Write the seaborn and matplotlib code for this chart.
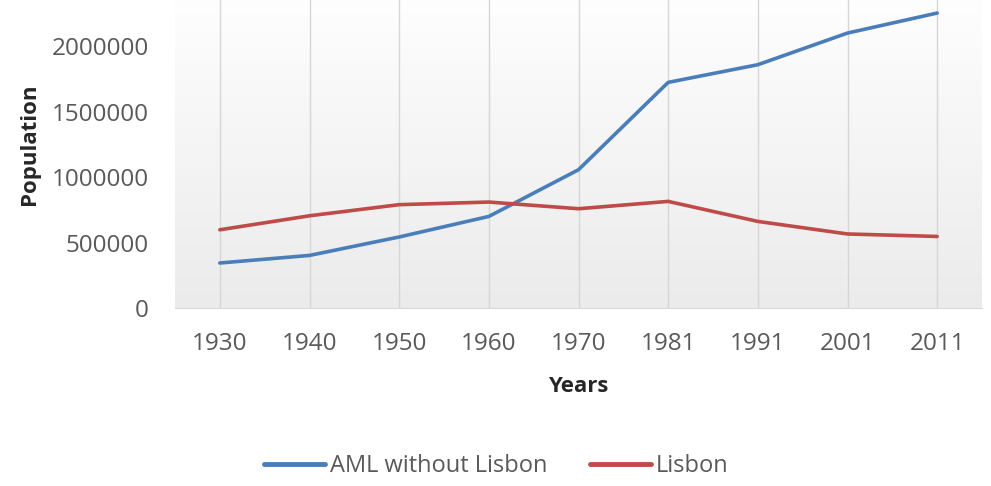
import numpy as np
import pandas as pd
import matplotlib.pyplot as plt
import seaborn as sns
from matplotlib.colors import LinearSegmentedColormap

years = ["1930", "1940", "1950", "1960", "1970", "1981", "1991", "2001", "2011"]
aml_without_lisbon = [344000, 402000, 543000, 700000, 1057000, 1725000, 1860000, 2102000, 2255000]
lisbon = [598000, 705000, 790000, 810000, 759000, 815000, 662000, 566000, 547000]
y_ticks = [0, 500000, 1000000, 1500000, 2000000]

df = pd.DataFrame({
    "Years": years * 2,
    "Population": aml_without_lisbon + lisbon,
    "Series": ["AML without Lisbon"] * len(years) + ["Lisbon"] * len(years),
})
palette = {"AML without Lisbon": "#4a7ebb", "Lisbon": "#be4b48"}

sns.set_style("white")
plt.rcParams['font.family'] = ['Open Sans', 'DejaVu Sans']

fig = plt.figure(figsize=(9.91, 4.86), dpi=100)
# plot area runs a little above the top edge of the picture (original was cropped)
ax = fig.add_axes([175 / 991, 178 / 486, 807 / 991, 327 / 486])

# Excel-like vertical gradient in the plot area: white at top, light grey at bottom
cmap = LinearSegmentedColormap.from_list("bg", ["#ffffff", "#ebebeb"])
ax.imshow(np.linspace(0, 1, 256).reshape(-1, 1), cmap=cmap, aspect="auto",
          extent=[0, 1, 0, 1], transform=ax.transAxes, zorder=0)

sns.lineplot(data=df, x="Years", y="Population", hue="Series", palette=palette,
             sort=False, lw=2.6, ax=ax, legend=False, zorder=3)

ax.set_xlim(-0.5, len(years) - 0.5)
ax.set_ylim(0, 2500000)
ax.set_yticks(y_ticks)
ax.set_yticklabels([str(v) for v in y_ticks])
for i in range(len(years)):
    ax.axvline(i, color="#d6d6d6", lw=1, zorder=1)

for s in ["top", "right", "left"]:
    ax.spines[s].set_visible(False)
ax.spines["bottom"].set_color("#d9d9d9")
ax.spines["bottom"].set_zorder(2)
ax.tick_params(axis="both", length=0, labelsize=17.5, labelcolor="#595959")
ax.tick_params(axis="y", pad=19)
ax.tick_params(axis="x", pad=17)

ax.set_xlabel("Years", fontsize=16, fontweight="bold", labelpad=15)
ax.set_ylabel("Population", fontsize=16, fontweight="bold", labelpad=8)

handles = [plt.Line2D([], [], color=c, lw=3.5) for c in palette.values()]
fig.legend(handles, list(palette.keys()), loc="center", bbox_to_anchor=(496 / 991, 1 - 466 / 486),
           ncol=2, frameon=False, fontsize=17, handlelength=2.6, handletextpad=0.2,
           columnspacing=1.8, labelcolor="#595959")

fig.savefig("out.png", dpi=100)
